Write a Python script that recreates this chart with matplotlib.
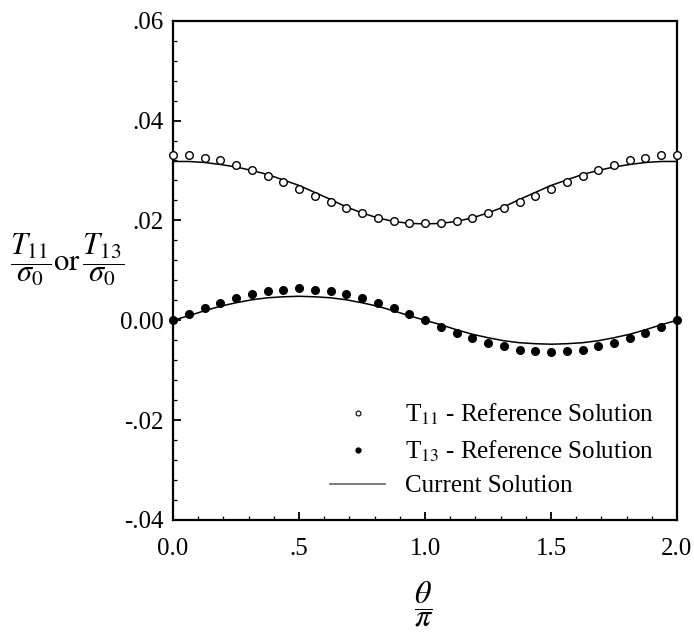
import numpy as np
import matplotlib
matplotlib.use("Agg")
import matplotlib.pyplot as plt
from matplotlib.lines import Line2D
from matplotlib.ticker import MultipleLocator

plt.rcParams['font.family'] = ['Liberation Serif', 'DejaVu Serif']
plt.rcParams['mathtext.fontset'] = 'stix'

# theta / pi, steps of 1/16
theta = [i / 16 for i in range(33)]

# half curves (0 .. 1.0), mirrored below
t11_ref_half = [0.0330, 0.0330, 0.0325, 0.0320, 0.0310, 0.0300, 0.0288, 0.0276, 0.0262,
                0.0249, 0.0236, 0.0224, 0.0214, 0.0205, 0.0199, 0.0195, 0.0194]
t11_cur_half = [0.0318, 0.0318, 0.0316, 0.0312, 0.0307, 0.0300, 0.0292, 0.0281, 0.0270,
                0.0256, 0.0242, 0.0227, 0.0215, 0.0205, 0.0198, 0.0194, 0.0193]
t13_ref_half = [0.0, 0.0013, 0.0025, 0.0035, 0.0045, 0.0052, 0.0059, 0.0061, 0.0064,
                0.0061, 0.0059, 0.0052, 0.0045, 0.0035, 0.0025, 0.0013, 0.0]
t13_cur_half = [0.0, 0.0009, 0.0019, 0.0028, 0.0035, 0.0041, 0.0045, 0.0047, 0.0048,
                0.0047, 0.0045, 0.0041, 0.0035, 0.0028, 0.0019, 0.0009, 0.0]

t11_ref = t11_ref_half + t11_ref_half[-2::-1]
t11_cur = t11_cur_half + t11_cur_half[-2::-1]
t13_ref = t13_ref_half + [-v for v in t13_ref_half[1:]]
t13_cur = t13_cur_half + [-v for v in t13_cur_half[1:]]

xticks = [0.0, 0.5, 1.0, 1.5, 2.0]
xtick_labels = ['0.0', '.5', '1.0', '1.5', '2.0']
yticks = [-0.04, -0.02, 0.0, 0.02, 0.04, 0.06]
ytick_labels = ['-.04', '-.02', '0.00', '.02', '.04', '.06']

fig = plt.figure(figsize=(6.94, 6.38), dpi=100)
ax = fig.add_axes([0.2493, 0.185, 0.7262, 0.7826])

ax.plot(theta, t11_cur, color='black', lw=1.1, zorder=2)
ax.plot(theta, t13_cur, color='black', lw=1.1, zorder=2)
ax.plot(theta, t11_ref, 'o', ms=5.5, mfc='white', mec='black', mew=1.0, clip_on=False, zorder=3)
ax.plot(theta, t13_ref, 'o', ms=5.5, mfc='black', mec='black', mew=1.0, clip_on=False, zorder=3)

ax.set_xlim(0, 2)
ax.set_ylim(-0.04, 0.06)
ax.set_xticks(xticks)
ax.set_xticklabels(xtick_labels)
ax.set_yticks(yticks)
ax.set_yticklabels(ytick_labels)
ax.xaxis.set_minor_locator(MultipleLocator(0.1))
ax.yaxis.set_minor_locator(MultipleLocator(0.004))
ax.tick_params(which='major', direction='in', length=6, width=1.3, labelsize=18)
ax.tick_params(which='minor', direction='in', length=3, width=0.9)
ax.tick_params(axis='x', pad=13)
ax.tick_params(axis='y', pad=7)
for s in ax.spines.values():
    s.set_linewidth(1.6)

handles = [
    Line2D([], [], marker='o', ls='none', ms=3.5, mfc='white', mec='black', mew=0.8),
    Line2D([], [], marker='o', ls='none', ms=3.5, mfc='black', mec='black'),
    Line2D([], [], color='#666666', lw=1.2),
]
labels = ['T$_{11}$ - Reference Solution', 'T$_{13}$ - Reference Solution', 'Current Solution']
ax.legend(handles, labels, loc='lower right', frameon=False, fontsize=18,
          handlelength=2.2, handletextpad=0.8, labelspacing=0.45,
          bbox_to_anchor=(1.0, 0.0))

fig.text(0.097, 0.594, r'$\dfrac{T_{11}}{\sigma_0}\mathrm{or}\,\dfrac{T_{13}}{\sigma_0}$',
         fontsize=22, ha='center', va='center')
fig.text(0.611, 0.053, r'$\dfrac{\theta}{\pi}$', fontsize=23, ha='center', va='center')

fig.savefig('out.png', dpi=100)
